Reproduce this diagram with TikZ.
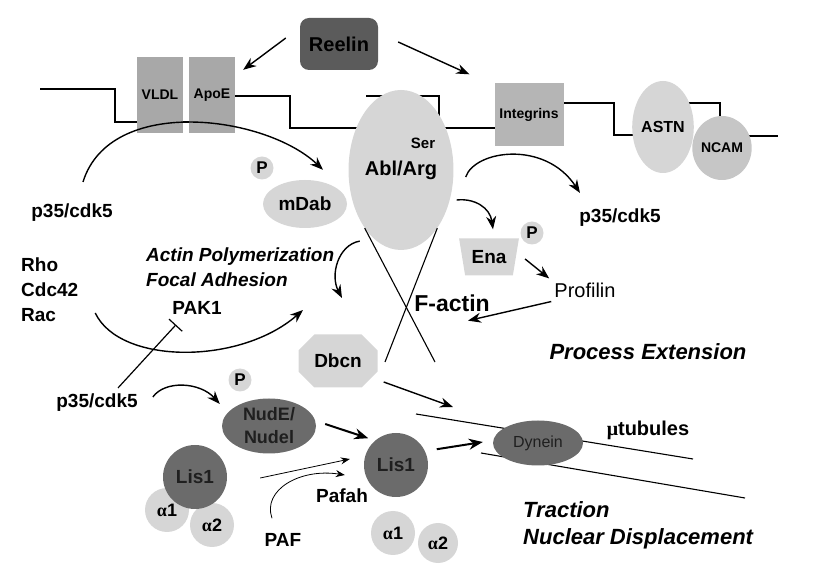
\documentclass[tikz,border=0pt]{standalone}
\usepackage{fontspec}
\setmainfont{Liberation Sans}
\newfontfamily\greekfont{Liberation Serif}
\usetikzlibrary{arrows.meta,calc,shapes.geometric,shapes.misc}
\definecolor{darkfill}{gray}{0.42}
\definecolor{midfill}{gray}{0.66}
\definecolor{lightfill}{gray}{0.84}
\definecolor{darktext}{gray}{0.12}

\begin{document}
\begin{tikzpicture}[x=1pt,y=-1pt,
    lab/.style={inner sep=1pt,font=\fontsize{19}{21}\selectfont\bfseries},
    small/.style={inner sep=0pt,font=\fontsize{14}{16}\selectfont\bfseries},
    proc/.style={inner sep=1pt,font=\fontsize{22}{26}\selectfont\bfseries\itshape},
    note/.style={inner sep=1pt,font=\fontsize{19}{22}\selectfont\bfseries\itshape},
    receptor/.style={rectangle,fill=midfill,inner sep=0pt,minimum width=46pt,minimum height=76pt},
    blob/.style={ellipse,fill=lightfill,inner sep=0pt},
    darkblob/.style={ellipse,fill=darkfill,inner sep=0pt},
    phos/.style={circle,fill=lightfill,inner sep=0pt,minimum size=23pt,font=\fontsize{17}{19}\selectfont\bfseries},
    alpha/.style={circle,fill=lightfill,inner sep=0pt,minimum size=44pt,font=\fontsize{18}{20}\selectfont\bfseries},
    arr/.style={-{Stealth[length=13pt,width=10pt]},line width=1.4pt},
    bigarr/.style={-{Stealth[length=14pt,width=11pt]},line width=2pt},
    thinarr/.style={-{Stealth[length=9pt,width=7pt]},line width=0.8pt},
    block/.style={-{Bar[width=18pt]},line width=1.2pt},
    membrane/.style={line width=1.1pt},
    tubule/.style={line width=1.1pt}]
  \useasboundingbox (0,0) rectangle (823,577);

  % membrane
  \draw[membrane] (40,89) -| (115,122) -- (212,122) |- (290,96) |- (380,128);
  \draw[membrane] (366,96) -| (439,128) -- (530,128) |- (614,103) |- (663,135)
    |- (720,103) |- (778,136);

  % microtubules
  \coordinate (tubA1) at (416,414);
  \coordinate (tubA2) at (693,459);
  \coordinate (tubB1) at (481,453);
  \coordinate (tubB2) at (745,498);
  \draw[tubule] (tubA1) -- (tubA2);
  \draw[tubule] (tubB1) -- (tubB2);

  \draw
    (339,44) node[rectangle,rounded corners=9pt,fill=darkfill!85!black,
      minimum width=78pt,minimum height=52pt,lab,font=\fontsize{20}{22}\selectfont\bfseries] (reelin){Reelin}
    (160,95) node[receptor,small] (vldl){VLDL}
    (212,95) node[receptor,small] (apoe){ApoE}
    (529,115) node[rectangle,fill=gray!58,minimum width=69pt,minimum height=63pt,small] (integrins){Integrins}
    (663,127) node[blob,minimum width=51pt,minimum height=92pt,small,font=\fontsize{16}{18}\selectfont\bfseries] (astn){ASTN}
    (722,148) node[darkblob,fill=gray!45,minimum width=50pt,minimum height=64pt,small] (ncam){NCAM}
    (401,170) node[blob,minimum width=98pt,minimum height=160pt,lab,font=\fontsize{20}{22}\selectfont\bfseries] (abl){Abl/Arg}
    (423,143) node[small,font=\fontsize{15}{17}\selectfont\bfseries] (ser){Ser}
    (262,168) node[phos] (pmdab){P}
    (305,204) node[blob,minimum width=84pt,minimum height=48pt,lab] (mdab){mDab}
    (72,213) node[lab] (cdkA){p35/cdk5}
    (620,218) node[lab] (cdkB){p35/cdk5}
    (489,257) node[trapezium,trapezium angle=73,shape border rotate=180,trapezium stretches=true,
      fill=lightfill,minimum width=60pt,minimum height=37pt,inner sep=0pt,lab] (ena){Ena}
    (532,233) node[phos] (pena){P}
    (585,290) node[inner sep=1pt,font=\fontsize{20}{22}\selectfont] (profilin){Profilin}
    (452,303) node[lab,font=\fontsize{23}{25}\selectfont\bfseries] (factin){F-actin}
    (20,265) node[lab,anchor=west] (rho){Rho}
    (20,290) node[lab,anchor=west] (cdc){Cdc42}
    (20,315) node[lab,anchor=west] (rac){Rac}
    (145,257) node[note,anchor=west] (actinpol){Actin Polymerization}
    (145,280) node[note,anchor=west] (focal){Focal Adhesion}
    (197,308) node[lab] (pak){PAK1}
    (97,403) node[lab] (cdkC){p35/cdk5}
    (648,352) node[proc] (process){Process Extension}
    (338,361) node[chamfered rectangle,chamfered rectangle xsep=8pt,chamfered rectangle ysep=8pt,
      fill=lightfill,minimum width=79pt,minimum height=53pt,inner sep=0pt,lab] (dbcn){Dbcn}
    (240,380) node[phos] (pnude){P}
    (269,426) node[darkblob,minimum width=94pt,minimum height=55pt,align=center,text=darktext,
      font=\fontsize{18}{23}\selectfont\bfseries] (nude){NudE/\\Nudel}
    (167,510) node[alpha] (alphaA1){{\greekfont α}1}
    (212,525) node[alpha] (alphaA2){{\greekfont α}2}
    (195,477) node[circle,fill=darkfill,minimum size=64pt,inner sep=0pt,lab,text=darktext] (lisA){Lis1}
    (396,465) node[circle,fill=darkfill,minimum size=64pt,inner sep=0pt,lab,text=darktext] (lisB){Lis1}
    (393,533) node[alpha] (alphaB1){{\greekfont α}1}
    (438,543) node[alpha,minimum size=40pt] (alphaB2){{\greekfont α}2}
    (342,496) node[lab] (pafah){Pafah}
    (283,540) node[lab] (paf){PAF}
    (538,443) node[darkblob,minimum width=90pt,minimum height=45pt,text=darktext,
      font=\fontsize{16}{18}\selectfont] (dynein){Dynein}
    (648,430) node[lab,font=\fontsize{20}{22}\selectfont\bfseries] (mtub){{\greekfont μ}tubules}
    (522,510) node[proc,anchor=west] (traction){Traction}
    (522,539) node[proc,anchor=west] (nuclear){Nuclear Displacement};

  % F-actin filaments
  \coordinate (actinA) at (435,362);
  \coordinate (actinB) at (385,362);
  \draw[tubule] (abl.-122) -- (actinA);
  \draw[tubule] (abl.-58) -- (actinB);

  \coordinate (polyend) at (342,298);
  \coordinate (rhoend) at (303,310);
  \coordinate (dbcnend) at (453,407);
  \begin{scope}[arr]
    \draw ($(reelin.west)+(-14,-6)$) -- ($(apoe.north east)+(8,13)$);
    \draw ($(reelin.east)+(20,-2)$) -- ($(integrins.north west)+(-25,-9)$);
    \draw ($(cdkA.north)+(11,-21)$) .. controls (110,95) and (265,115) .. ($(mdab.north)+(18,-10)$);
    \draw ($(abl.east)+(12,7)$) .. controls (475,150) and (545,140) .. ($(cdkB.north)+(-40,-15)$);
    \draw ($(abl.east)+(3,30)$) .. controls (475,198) and (490,208) .. ($(ena.north)+(4,-9)$);
    \draw ($(ena.east)+(9,2)$) -- ($(profilin.north west)+(-4,-3)$);
    \draw ($(profilin.south west)+(-2,3)$) -- ($(factin.south)+(16,8)$);
    \draw ($(abl.-122)+(-5,13)$) .. controls (338,245) and (330,275) .. (polyend);
    \draw ($(rac.east)+(38,-2)$) .. controls (120,365) and (240,365) .. (rhoend);
    \draw ($(cdkC.east)+(14,-6)$) .. controls (165,380) and (200,382) .. ($(nude.west)+(-2,-22)$);
    \draw ($(dbcn.east)+(6,21)$) -- (dbcnend);
  \end{scope}
  \draw[block] ($(cdkC.north)+(21,-5)$) -- ($(pak.south)+(-21,9)$);
  \draw[bigarr] ($(nude.east)+(9,-2)$) -- ($(lisB.north west)+(-5,-4)$);
  \draw[bigarr] ($(lisB.north east)+(18,7)$) -- ($(dynein.west)+(-10,-1)$);
  \draw[thinarr] ($(lisA.east)+(33,1)$) -- ($(lisB.west)+(-14,-6)$);
  \draw[thinarr] ($(paf.north)+(-11,-14)$) .. controls (262,490) and (300,468) .. ($(lisB.west)+(-19,10)$);
\end{tikzpicture}
\end{document}
